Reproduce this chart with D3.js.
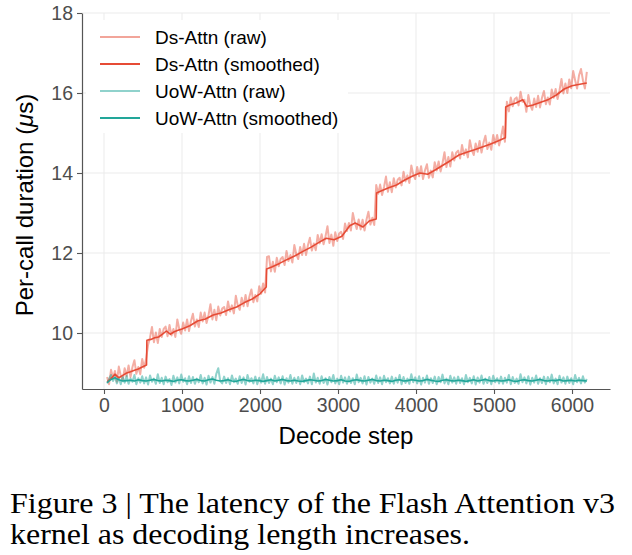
<!DOCTYPE html>
<html>
<head>
<meta charset="utf-8" />
<script src="https://d3js.org/d3.v7.min.js"></script>
<style>
    body { margin: 0; background: #fff; }
    svg { display: block; }
    .tick text { font-family: "Liberation Sans", Arial, sans-serif; fill: #4d4d4d; }
</style>
</head>
<body>
<div id="visu"></div>
<script>
// Decode steps of the raw series (one sample every 25 steps)
const rawSteps = d3.range(40, 6191, 25);

// Ds-Attn, raw per-call duration (us)
const dsRaw = [
    8.90, 8.72, 9.08, 8.87, 9.05, 8.78, 9.16, 8.93, 8.82, 9.12,
    8.92, 9.19, 8.90, 9.15, 9.32, 8.98, 9.15, 8.97, 9.35, 9.13,
    9.36, 9.70, 9.89, 10.15, 9.77, 10.01, 9.75, 10.10, 9.90, 10.10,
    10.16, 9.92, 10.20, 9.94, 10.10, 9.90, 10.34, 10.10, 9.98, 10.26,
    10.06, 10.34, 10.05, 10.30, 10.48, 10.16, 10.34, 10.15, 10.51, 10.29,
    10.51, 10.25, 10.45, 10.72, 10.34, 10.58, 10.32, 10.66, 10.44, 10.61,
    10.65, 10.45, 10.79, 10.54, 10.69, 10.49, 10.93, 10.69, 10.58, 10.88,
    10.67, 10.95, 10.67, 10.92, 11.09, 10.77, 10.95, 10.79, 11.17, 10.98,
    11.24, 11.01, 11.90, 11.92, 11.54, 11.78, 11.53, 11.88, 11.67, 11.85,
    11.90, 11.70, 12.05, 11.80, 11.95, 11.76, 12.20, 11.97, 11.85, 12.15,
    11.95, 12.23, 11.95, 12.20, 12.38, 12.06, 12.24, 12.07, 12.45, 12.24,
    12.47, 12.22, 12.42, 12.67, 12.25, 12.46, 12.18, 12.52, 12.30, 12.49,
    12.53, 12.35, 12.74, 12.55, 12.75, 12.56, 13.00, 12.77, 12.60, 12.84,
    12.59, 12.83, 12.56, 12.83, 13.03, 12.71, 12.88, 12.70, 13.70, 13.48,
    13.71, 13.45, 13.65, 13.91, 13.53, 13.77, 13.52, 13.87, 13.64, 13.83,
    13.88, 13.69, 14.03, 13.79, 13.94, 13.75, 14.19, 13.96, 13.85, 14.15,
    13.92, 14.17, 13.85, 14.07, 14.22, 13.88, 14.06, 13.89, 14.27, 14.06,
    14.29, 14.04, 14.25, 14.52, 14.15, 14.40, 14.16, 14.52, 14.31, 14.51,
    14.56, 14.36, 14.70, 14.45, 14.59, 14.39, 14.82, 14.58, 14.45, 14.74,
    14.53, 14.80, 14.51, 14.76, 14.93, 14.60, 14.76, 14.58, 14.95, 14.73,
    14.95, 14.69, 14.89, 15.16, 14.78, 15.78, 15.54, 15.89, 15.67, 15.85,
    15.89, 15.69, 16.03, 15.78, 15.83, 15.53, 15.95, 15.70, 15.58, 15.86,
    15.65, 15.93, 15.64, 15.88, 16.05, 15.72, 15.89, 15.71, 16.09, 15.88,
    16.10, 15.85, 16.07, 16.35, 15.99, 16.24, 16.00, 16.34, 16.12, 16.55,
    16.32, 16.11, 16.44, 16.60, 16.32, 16.11, 16.53
];

// UoW-Attn, raw per-call duration (us)
const uowRaw = [
    8.74, 8.85, 8.95, 8.8, 8.9, 8.74, 8.88, 8.72, 8.9, 8.76,
    8.93, 8.73, 8.86, 8.78, 8.95, 8.72, 8.87, 8.76, 8.92, 8.74,
    8.89, 8.71, 8.94, 8.78, 8.86, 8.73, 8.97, 8.75, 8.88, 8.72,
    8.91, 8.77, 8.85, 8.7, 8.93, 8.76, 8.89, 8.74, 8.96, 8.78,
    8.87, 8.72, 8.92, 8.75, 8.9, 8.73, 8.86, 8.77, 8.95, 8.74,
    8.88, 8.71, 8.93, 8.76, 8.9, 8.73, 8.98, 9.12, 8.8, 8.74,
    8.91, 8.75, 8.87, 8.72, 8.94, 8.77, 8.86, 8.73, 8.92, 8.75,
    8.89, 8.71, 8.95, 8.78, 8.87, 8.74, 8.91, 8.72, 8.88, 8.76,
    8.97, 8.73, 8.9, 8.75, 8.86, 8.72, 8.93, 8.77, 8.89, 8.74,
    8.92, 8.71, 8.87, 8.76, 8.95, 8.73, 8.88, 8.75, 8.9, 8.72,
    8.94, 8.77, 8.86, 8.74, 8.91, 8.72, 8.99, 8.76, 8.88, 8.73,
    8.92, 8.75, 8.87, 8.71, 8.9, 8.77, 8.95, 8.74, 8.86, 8.72,
    8.93, 8.76, 8.89, 8.73, 8.91, 8.75, 8.87, 8.72, 8.96, 8.77,
    8.88, 8.74, 8.92, 8.71, 8.9, 8.76, 8.86, 8.73, 8.94, 8.75,
    8.89, 8.72, 8.93, 8.77, 8.87, 8.74, 8.91, 8.73, 8.88, 8.76,
    8.95, 8.72, 8.9, 8.75, 8.86, 8.73, 8.97, 8.77, 8.89, 8.74,
    8.92, 8.71, 8.88, 8.76, 8.94, 8.73, 8.87, 8.75, 8.91, 8.72,
    8.9, 8.77, 8.96, 8.74, 8.86, 8.72, 8.93, 8.76, 8.89, 8.73,
    8.91, 8.75, 8.87, 8.72, 8.95, 8.77, 8.88, 8.74, 8.92, 8.71,
    8.89, 8.76, 8.94, 8.73, 8.86, 8.75, 8.9, 8.72, 8.93, 8.77,
    8.87, 8.74, 8.91, 8.73, 8.88, 8.76, 8.95, 8.72, 8.9, 8.75,
    8.86, 8.73, 8.97, 8.77, 8.89, 8.74, 8.92, 8.71, 8.88, 8.76,
    8.94, 8.73, 8.87, 8.75, 8.91, 8.72, 8.9, 8.77, 8.96, 8.74,
    8.86, 8.72, 8.93, 8.76, 8.89, 8.73, 8.91, 8.75, 8.87, 8.72,
    8.95, 8.77, 8.88, 8.74, 8.92, 8.76, 8.85
];

// Ds-Attn smoothed curve (steps and values)
const dsSmoothSteps = [40, 90, 140, 190, 240, 290, 340, 390, 440, 490, 545, 550, 600, 650, 700, 750, 800, 850, 900, 950,
    1000, 1100, 1200, 1300, 1400, 1500, 1600, 1700, 1800, 1900, 2000, 2080, 2085, 2150, 2250, 2350, 2450, 2550, 2650, 2750,
    2850, 2950, 3050, 3150, 3220, 3320, 3400, 3490, 3495, 3550, 3650, 3750, 3850, 3950, 4050, 4150, 4250, 4350, 4450, 4550,
    4650, 4750, 4850, 4950, 5050, 5145, 5150, 5200, 5280, 5370, 5420, 5500, 5600, 5700, 5800, 5900, 6000, 6100, 6190];
const dsSmooth = [8.78, 8.86, 8.97, 8.88, 8.94, 9.0, 9.03, 9.07, 9.1, 9.15, 9.2, 9.82, 9.84, 9.88, 9.9, 9.97, 10.05, 9.97, 10.03, 10.07,
    10.1, 10.18, 10.3, 10.35, 10.45, 10.5, 10.58, 10.65, 10.76, 10.85, 10.98, 11.15, 11.6, 11.65, 11.74, 11.84, 11.93, 12.04, 12.14, 12.26,
    12.37, 12.33, 12.42, 12.68, 12.75, 12.65, 12.8, 12.85, 13.5, 13.55, 13.63, 13.7, 13.82, 13.92, 14.0, 13.97, 14.08, 14.2, 14.32, 14.45,
    14.52, 14.58, 14.65, 14.72, 14.8, 14.88, 15.65, 15.7, 15.75, 15.83, 15.66, 15.7, 15.77, 15.84, 15.95, 16.1, 16.18, 16.22, 16.25];

// UoW-Attn smoothed curve (one value every 50 steps)
const uowSmoothSteps = d3.range(40, 6191, 50);
const uowSmooth = [
    8.76, 8.84, 8.88, 8.83, 8.8, 8.81, 8.82, 8.8, 8.83, 8.81,
    8.8, 8.82, 8.84, 8.81, 8.8, 8.82, 8.81, 8.79, 8.82, 8.83,
    8.81, 8.8, 8.82, 8.84, 8.81, 8.8, 8.83, 8.85, 8.82, 8.8,
    8.81, 8.83, 8.8, 8.79, 8.82, 8.84, 8.81, 8.8, 8.82, 8.81,
    8.79, 8.81, 8.83, 8.8, 8.82, 8.84, 8.81, 8.8, 8.82, 8.8,
    8.79, 8.81, 8.83, 8.82, 8.8, 8.81, 8.84, 8.82, 8.8, 8.81,
    8.83, 8.8, 8.79, 8.82, 8.83, 8.81, 8.8, 8.82, 8.84, 8.81,
    8.8, 8.82, 8.81, 8.79, 8.82, 8.83, 8.8, 8.81, 8.83, 8.82,
    8.8, 8.81, 8.84, 8.82, 8.8, 8.79, 8.82, 8.83, 8.81, 8.8,
    8.82, 8.81, 8.79, 8.81, 8.83, 8.8, 8.82, 8.84, 8.81, 8.8,
    8.82, 8.8, 8.81, 8.83, 8.8, 8.79, 8.82, 8.83, 8.81, 8.8,
    8.82, 8.84, 8.81, 8.8, 8.82, 8.81, 8.83, 8.8, 8.81, 8.82,
    8.8, 8.82, 8.81, 8.8
];

const xTicks = [0, 1000, 2000, 3000, 4000, 5000, 6000];
const yTicks = [10, 12, 14, 16, 18];
const legendLabels = ["Ds-Attn (raw)", "Ds-Attn (smoothed)", "UoW-Attn (raw)", "UoW-Attn (smoothed)"];
const captionLines = ["Figure 3 | The latency of the Flash Attention v3", "kernel as decoding length increases."];

const red = "#E64B35";
const teal = "#22A699";

const width = 632, height = 555;
const plotLeft = 82, plotRight = 610, plotTop = 13, plotBottom = 389;
const sans = '"Liberation Sans", Arial, sans-serif';

const svg = d3.select("#visu").append("svg")
    .attr("width", width)
    .attr("height", height);

const x = d3.scaleLinear().domain([-282, 6487]).range([plotLeft, plotRight]);
const y = d3.scaleLinear().domain([8.6, 18]).range([plotBottom, plotTop]);

// grille
svg.append("g").selectAll("line").data(xTicks).enter().append("line")
    .attr("x1", d => x(d)).attr("x2", d => x(d))
    .attr("y1", plotTop).attr("y2", plotBottom)
    .attr("stroke", "#ebebeb").attr("stroke-width", 1);
svg.append("g").selectAll("line").data(yTicks).enter().append("line")
    .attr("x1", plotLeft).attr("x2", plotRight)
    .attr("y1", d => y(d)).attr("y2", d => y(d))
    .attr("stroke", "#ebebeb").attr("stroke-width", 1);

// séries (raw en traits épais et pâles pour faire une bande)
const line = d3.line().x(d => x(d[0])).y(d => y(d[1]));
const series = [
    { pts: d3.zip(rawSteps, dsRaw), color: red, op: 0.45, w: 2 },
    { pts: d3.zip(rawSteps, uowRaw), color: teal, op: 0.5, w: 2 },
    { pts: d3.zip(dsSmoothSteps, dsSmooth), color: red, op: 1, w: 1.6 },
    { pts: d3.zip(uowSmoothSteps, uowSmooth), color: teal, op: 1, w: 1.6 }
];
svg.append("g").selectAll("path").data(series).enter().append("path")
    .attr("d", d => line(d.pts))
    .attr("fill", "none")
    .attr("stroke", d => d.color)
    .attr("stroke-opacity", d => d.op)
    .attr("stroke-width", d => d.w)
    .attr("stroke-linejoin", "round");

// axes
const xAxis = svg.append("g")
    .attr("transform", `translate(0,${plotBottom})`)
    .call(d3.axisBottom(x).tickValues(xTicks).tickFormat(d3.format("d"))
        .tickSize(5).tickPadding(4).tickSizeOuter(0));
const yAxis = svg.append("g")
    .attr("transform", `translate(${plotLeft},0)`)
    .call(d3.axisLeft(y).tickValues(yTicks).tickSize(5).tickPadding(4).tickSizeOuter(0));
[xAxis, yAxis].forEach(a => {
    a.select(".domain").attr("stroke", "#555").attr("stroke-width", 1.2);
    a.selectAll(".tick line").attr("stroke", "#555").attr("stroke-width", 1.1);
    a.selectAll(".tick text").style("font-size", "19.5px");
});

// titres des axes
svg.append("text")
    .attr("x", 346).attr("y", 444)
    .attr("text-anchor", "middle")
    .style("font-family", sans)
    .style("font-size", "24px")
    .text("Decode step");

const yTitle = svg.append("text")
    .attr("transform", "translate(33,205) rotate(-90)")
    .attr("text-anchor", "middle")
    .style("font-family", sans)
    .style("font-size", "24px");
yTitle.append("tspan").text("Per-call duration (");
yTitle.append("tspan").style("font-style", "italic").text("\u03BC");
yTitle.append("tspan").text("s)");

// légende
const legColors = [red, red, teal, teal];
const legOps = [0.5, 1, 0.5, 1];
const legend = svg.append("g");
legend.append("rect")
    .attr("x", 86).attr("y", 20).attr("width", 262).attr("height", 113)
    .attr("fill", "#fff");
const rows = legend.selectAll("g").data(legendLabels).enter().append("g")
    .attr("transform", (d, i) => `translate(0,${37 + i * 27})`);
rows.append("line")
    .attr("x1", 100).attr("x2", 140)
    .attr("stroke", (d, i) => legColors[i])
    .attr("stroke-opacity", (d, i) => legOps[i])
    .attr("stroke-width", 1.8);
rows.append("text")
    .attr("x", 155).attr("dy", "0.35em")
    .style("font-family", sans)
    .style("font-size", "19px")
    .text(d => d);

// légende de la figure
svg.selectAll(".caption").data(captionLines).enter().append("text")
    .attr("class", "caption")
    .attr("x", 10)
    .attr("y", (d, i) => 513 + i * 31)
    .attr("textLength", (d, i) => i === 0 ? 605 : 460)
    .attr("lengthAdjust", "spacingAndGlyphs")
    .style("font-family", '"Liberation Serif", "Times New Roman", serif')
    .style("font-size", "30px")
    .text(d => d);
</script>
</body>
</html>
